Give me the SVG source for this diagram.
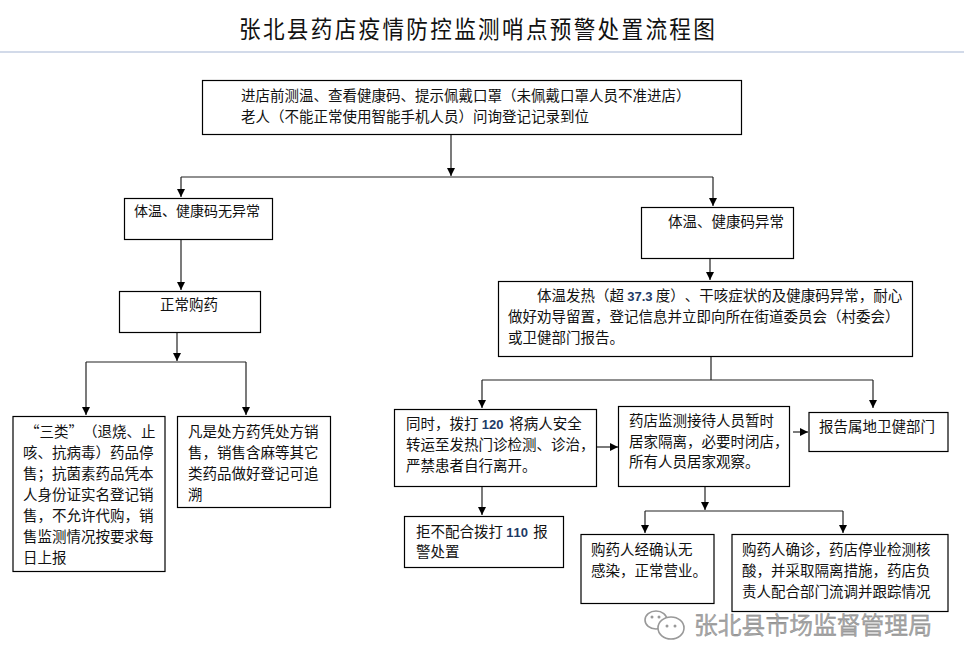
<svg xmlns="http://www.w3.org/2000/svg" width="964" height="668" viewBox="0 0 964 668">
<style>
text{font-family:"Noto Sans CJK SC","Noto Sans",sans-serif;fill:#111;text-spacing-trim:space-all;font-kerning:none}
.t{font-size:14.5px}
.n{font-family:"Liberation Sans",Arial,sans-serif;font-size:13px;font-weight:700;fill:#1d3a66}
.b{fill:#fff;stroke:#000;stroke-width:1.2}
.c{fill:none;stroke:#222;stroke-width:1.2}
.a{fill:none;stroke:#222;stroke-width:1.2;marker-end:url(#ah)}
.wm{font-size:23.8px;fill:#a8a8a8;stroke:#777;stroke-width:.3}
.ic{fill:#fff;stroke:#999;stroke-width:1.6}
</style>
<defs><marker id="ah" markerUnits="userSpaceOnUse" markerWidth="9" markerHeight="9" refX="8" refY="4" orient="auto"><path d="M0 0L8 4L0 8Z" fill="#000"/></marker></defs>
<rect width="964" height="668" fill="#fff"/>
<text id="title" transform="translate(239 38) scale(.92 1.02)" font-size="23.5" letter-spacing="2.5">张北县药店疫情防控监测哨点预警处置流程图</text>
<line x1="0" y1="52" x2="964" y2="52" stroke="#a5b6d3" stroke-width="1.2"/>
<g id="connectors">
<path class="a" d="M451 134V176"/>
<path class="c" d="M181 177H713"/>
<path class="a" d="M181 177V197"/>
<path class="a" d="M713 177V206"/>
<path class="a" d="M181 240V290"/>
<path class="a" d="M177 333V361"/>
<path class="c" d="M86 362H246"/>
<path class="a" d="M86 362V415"/>
<path class="a" d="M246 362V415"/>
<path class="a" d="M710 259V280"/>
<path class="c" d="M711 357V380"/>
<path class="c" d="M482 380H873"/>
<path class="a" d="M482 380V408"/>
<path class="a" d="M873 380V408"/>
<path class="a" d="M596 447H618"/>
<path class="a" d="M793 432H808"/>
<path class="a" d="M482 486V515"/>
<path class="a" d="M705 486V510"/>
<path class="c" d="M645 511H843"/>
<path class="a" d="M645 511V533"/>
<path class="a" d="M843 511V533"/>
</g>
<g id="n1"><rect class="b" x="202.500" y="80.500" width="539" height="54"/>
<text class="t" x="241" y="101">进店前测温、查看健康码、提示佩戴口罩（未佩戴口罩人员不准进店）</text>
<text class="t" x="241" y="122">老人（不能正常使用智能手机人员）问询登记记录到位</text></g>
<g id="n2"><rect class="b" x="124.500" y="198.500" width="148" height="41"/>
<text x="134" y="216" font-size="14">体温、健康码无异常</text></g>
<g id="n3"><rect class="b" x="641.500" y="207.500" width="152" height="51"/>
<text class="t" x="668" y="227">体温、健康码异常</text></g>
<g id="n4"><rect class="b" x="119.500" y="291.500" width="141" height="41"/>
<text class="t" x="160" y="310">正常购药</text></g>
<g id="n5"><rect class="b" x="498.500" y="281.500" width="414" height="75"/>
<text class="t" x="537" y="301">体温发热（超 <tspan class="n">37.3</tspan> 度）、干咳症状的及健康码异常，耐心</text>
<text class="t" x="508" y="322">做好劝导留置，登记信息并立即向所在街道委员会（村委会）</text>
<text class="t" x="508" y="343">或卫健部门报告。</text></g>
<g id="n6"><rect class="b" x="13" y="416.500" width="152" height="155"/>
<text class="t" x="25" y="437">“三类”（退烧、止</text>
<text class="t" x="23" y="458">咳、抗病毒）药品停</text>
<text class="t" x="23" y="479">售；抗菌素药品凭本</text>
<text class="t" x="23" y="500">人身份证实名登记销</text>
<text class="t" x="23" y="521">售，不允许代购，销</text>
<text class="t" x="23" y="542">售监测情况按要求每</text>
<text class="t" x="23" y="563">日上报</text></g>
<g id="n7"><rect class="b" x="177.500" y="416.500" width="153" height="91"/>
<text class="t" x="188" y="437">凡是处方药凭处方销</text>
<text class="t" x="188" y="458">售，销售含麻等其它</text>
<text class="t" x="188" y="479">类药品做好登记可追</text>
<text class="t" x="188" y="500">溯</text></g>
<g id="n8"><rect class="b" x="394.500" y="409.500" width="202" height="77"/>
<text class="t" x="406" y="429">同时，拨打 <tspan class="n">120</tspan> <tspan dx="2.500">将病人安全</tspan></text>
<text class="t" x="406" y="450">转运至发热门诊检测、诊治，</text>
<text class="t" x="406" y="471">严禁患者自行离开。</text></g>
<g id="n9"><rect class="b" x="618.500" y="406.500" width="171" height="80"/>
<text class="t" x="629" y="426">药店监测接待人员暂时</text>
<text class="t" x="629" y="447">居家隔离，必要时闭店，</text>
<text class="t" x="629" y="467">所有人员居家观察。</text></g>
<g id="n10"><rect class="b" x="809" y="412.500" width="139" height="39"/>
<text class="t" x="819" y="432">报告属地卫健部门</text></g>
<g id="n11"><rect class="b" x="404.500" y="516.500" width="159" height="51"/>
<text class="t" x="416" y="537">拒不配合拨打 <tspan class="n">110</tspan> <tspan dx="2">报</tspan></text>
<text class="t" x="416" y="557">警处置</text></g>
<g id="n12"><rect class="b" x="581" y="534.500" width="133" height="69"/>
<text class="t" x="591" y="555">购药人经确认无</text>
<text class="t" x="591" y="576">感染，正常营业。</text></g>
<g id="n13"><rect class="b" x="732" y="534.500" width="216" height="77"/>
<text class="t" x="742" y="555">购药人确诊，药店停业检测核</text>
<text class="t" x="742" y="576">酸，并采取隔离措施，药店负</text>
<text class="t" x="742" y="597">责人配合部门流调并跟踪情况</text></g>
<g id="watermark">
<ellipse class="ic" cx="656" cy="620" rx="11" ry="9"/>
<ellipse class="ic" cx="671" cy="628" rx="13" ry="11"/>
<circle cx="652" cy="617" r="1.5" fill="#999"/><circle cx="659" cy="617" r="1.5" fill="#999"/>
<circle cx="667" cy="626" r="1.5" fill="#999"/><circle cx="675" cy="626" r="1.5" fill="#999"/>
<text class="wm" x="694" y="634">张北县市场监督管理局</text>
</g>
</svg>
